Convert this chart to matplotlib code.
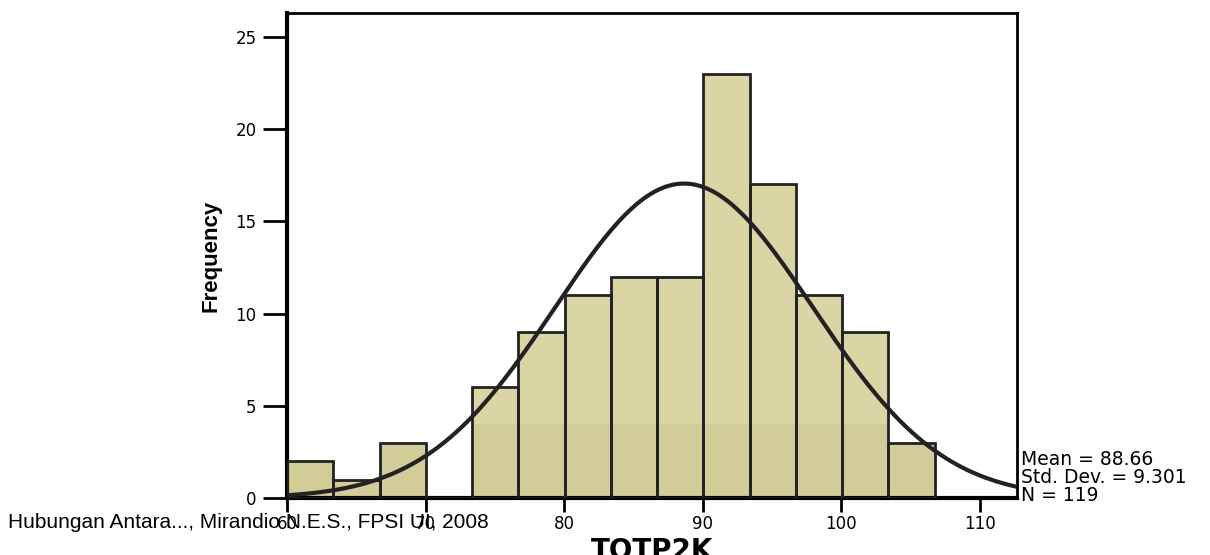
import numpy as np
import matplotlib
matplotlib.use("Agg")
import matplotlib.pyplot as plt

# histogram of TOTP2K (SPSS style)
bin_start = 60.0
bin_width = 3.34
counts = [2, 1, 3, 0, 6, 9, 11, 12, 12, 23, 17, 11, 9, 3]
mean, sd, n = 88.66, 9.301, 119
x_ticks = [60, 70, 80, 90, 100, 110]
y_ticks = [0, 5, 10, 15, 20, 25]

plt.rcParams['font.family'] = ['DejaVu Sans']

fig = plt.figure(figsize=(12.1, 5.55), dpi=100)
ax = fig.add_axes([0.2372, 0.1027, 0.6033, 0.874])

edges = bin_start + bin_width * np.arange(len(counts))
heights = np.array(counts, dtype=float)
ax.bar(edges, heights, width=bin_width, align='edge', color='#d9d5a5',
       edgecolor='none', zorder=2)
# slightly darker band at the bottom of the bars (rendering artefact in the original)
ax.bar(edges, np.minimum(heights, 4), width=bin_width, align='edge',
       color='#d2cd98', edgecolor='none', zorder=2.5)
ax.bar(edges, heights, width=bin_width, align='edge', color='none',
       edgecolor='#222222', linewidth=2, zorder=3)

# normal curve
xs = np.linspace(60, 112.7, 400)
ys = n * bin_width / (sd * np.sqrt(2 * np.pi)) * np.exp(-0.5 * ((xs - mean) / sd) ** 2)
ax.plot(xs, ys, color='#222222', linewidth=3, zorder=4)

ax.set_xlim(60, 112.7)
ax.set_ylim(0, 26.3)
ax.set_xticks(x_ticks)
ax.set_yticks(y_ticks)
ax.tick_params(axis='x', length=10, width=2, labelsize=12, pad=2,
               labelfontfamily='DejaVu Sans')
ax.tick_params(axis='y', length=17, width=2, labelsize=12, pad=5,
               labelfontfamily='DejaVu Sans')

for side in ['left', 'bottom']:
    ax.spines[side].set_linewidth(3)
for side in ['top', 'right']:
    ax.spines[side].set_linewidth(2)

ax.set_xlabel('TOTP2K', fontsize=20, fontweight='bold', labelpad=3)
ax.set_ylabel('Frequency', fontsize=16, fontweight='bold', labelpad=10,
              fontfamily=['Liberation Sans Narrow', 'Liberation Sans'])

stats = 'Mean = %.2f\nStd. Dev. = %.3f\nN = %d' % (mean, sd, n)
fig.text(1021 / 1210, 1 - 505 / 555, stats, fontsize=13.5, va='bottom', ha='left',
         linespacing=0.92)

fig.text(8 / 1210, 1 - 522 / 555, 'Hubungan Antara..., Mirandio N.E.S., FPSI UI, 2008',
         fontsize=15, va='center', ha='left', fontfamily='Liberation Sans')

fig.savefig('out.png', dpi=100)
